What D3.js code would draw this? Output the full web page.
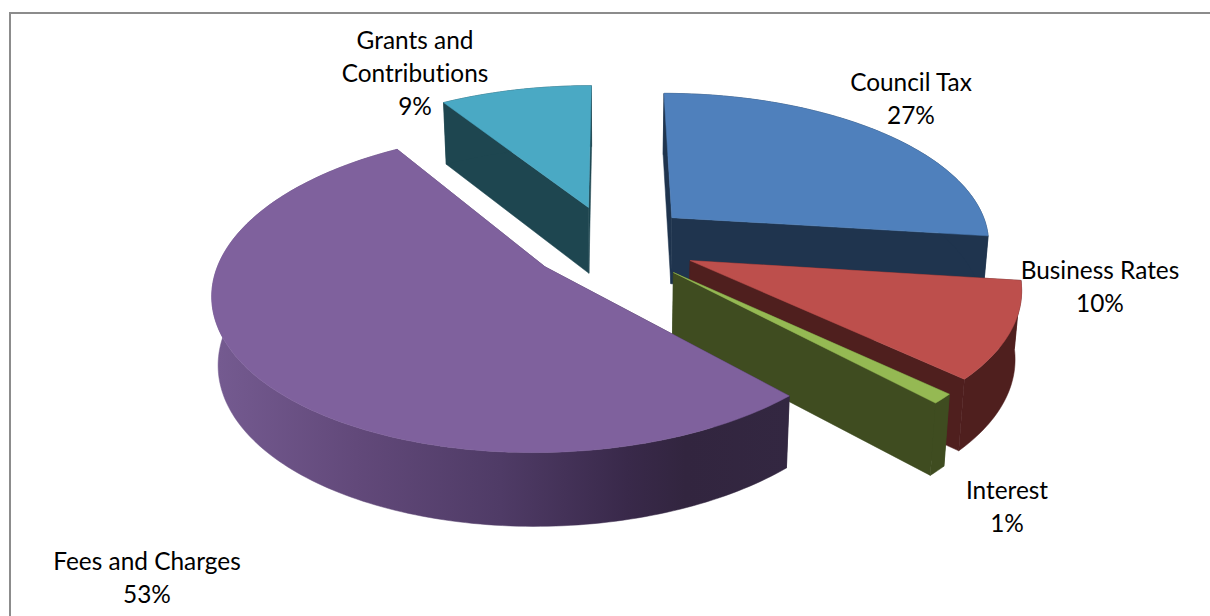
<!DOCTYPE html>
<html>
<head>
<meta charset="utf-8">
<style>
  html, body { margin: 0; padding: 0; background: #fff; }
  svg { display: block; }
  text { font-family: Lato, "Open Sans", sans-serif; font-size: 24.4px; fill: #000; text-anchor: middle; font-variant-ligatures: none; }
</style>
<script src="https://cdn.jsdelivr.net/npm/d3@7/dist/d3.min.js"></script>
</head>
<body>
<svg id="chart" width="1210" height="616"></svg>
<script>
// Income sources, in drawing order round the pie, clockwise from 12 o'clock
const categories = ["Council Tax", "Business Rates", "Interest", "Fees and Charges", "Grants and Contributions"];
const shares = [27, 10, 1, 53, 9];
const explosions = [0.262, 0.27, 0.27, 0.253, 0.255];
const labelLines = [["Council Tax"], ["Business Rates"], ["Interest"], ["Fees and Charges"], ["Grants and", "Contributions"]];
const topColours = ["#4f80bc", "#bd4f4c", "#95b953", "#7f619d", "#4aa9c4"];
const wallColours = ["#1f344e", "#4f1f1e", "#3f4c20", "url(#feesWall)", "#1e4650"];
const labelAnchors = [[911, 90.5], [1100, 278.5], [1007, 498.5], [147, 569.5], [415, 48.5]];

// Stage geometry of the tilted, exploded pie
const centre = { x: 610.5, y: 243 };
const radiusX = 320, radiusY = 150, thickness = 67;
const perspective = 0.15, wallPerspective = 0.08, taper = 0.016;
const lineGap = 33;

const svg = d3.select("#chart");

// Frame running along the top and left of the picture
svg.append("path")
  .attr("d", d3.line()([[10, 616], [10, 13], [1210, 13]]))
  .attr("fill", "none")
  .attr("stroke", "#8c8c8c")
  .attr("stroke-width", 2);

const pie = d3.pie().sort(null).value(d => d).startAngle(0).endAngle(2 * Math.PI);
const arcs = pie(shares);
const path = d3.line();

const scaleU = d3.scaleLinear().domain([0, 1]).range([0, radiusX]);
const scaleV = d3.scaleLinear().domain([0, 1]).range([0, radiusY]);

// Ground-plane coordinates (u right, v away) plus height fraction z down the wall
function project(u, v, z) {
  const w = 1 / (1 + perspective * v);
  const wallScale = 1 / (1 + wallPerspective * v);
  return [
    centre.x + scaleU(u) * w * (1 - taper * z),
    centre.y - scaleV(v) * w + thickness * wallScale * z
  ];
}

function sliceGeometry(a, explode) {
  const mid = (a.startAngle + a.endAngle) / 2;
  const ox = explode * Math.sin(mid), oy = explode * Math.cos(mid);
  const rim = (t, z) => project(ox + Math.sin(t), oy + Math.cos(t), z);
  const apex = z => project(ox, oy, z);
  const steps = Math.max(2, Math.ceil((a.endAngle - a.startAngle) / 0.02));
  const angles = d3.range(steps + 1).map(i => a.startAngle + (a.endAngle - a.startAngle) * i / steps);
  return { rim, apex, angles };
}

// Side shading on the large slice darkens from left to right
const defs = svg.append("defs");
const feesArc = sliceGeometry(arcs[3], explosions[3]);
const feesXs = feesArc.angles.map(t => feesArc.rim(t, 0)[0]);
const gradient = defs.append("linearGradient")
  .attr("id", "feesWall")
  .attr("gradientUnits", "userSpaceOnUse")
  .attr("x1", d3.min(feesXs)).attr("x2", d3.max(feesXs))
  .attr("y1", 0).attr("y2", 0);
[[0, "#755b91"], [0.25, "#62497a"], [0.5, "#4f3b66"], [0.72, "#39294a"], [0.82, "#32253f"], [1, "#332741"]]
  .forEach(([o, c]) => gradient.append("stop").attr("offset", o).attr("stop-color", c));

// Painter's order: back slices first, the large front slice last
const paintOrder = [4, 0, 1, 2, 3];

paintOrder.forEach(i => {
  const a = arcs[i];
  const g = sliceGeometry(a, explosions[i]);
  const group = svg.append("g").attr("class", "slice").datum(categories[i]);

  const edgeWall = t => [g.apex(0), g.rim(t, 0), g.rim(t, 1), g.apex(1)];
  const rimWall = g.angles.map(t => g.rim(t, 0)).concat(g.angles.slice().reverse().map(t => g.rim(t, 1)));

  [edgeWall(a.startAngle), edgeWall(a.endAngle), rimWall].forEach(pts => {
    group.append("path")
      .attr("d", path(pts) + "Z")
      .attr("fill", wallColours[i])
      .attr("stroke", wallColours[i])
      .attr("stroke-width", 0.5);
  });

  const top = [g.apex(0)].concat(g.angles.map(t => g.rim(t, 0)));
  group.append("path")
    .attr("d", path(top) + "Z")
    .attr("fill", topColours[i])
    .attr("stroke", topColours[i])
    .attr("stroke-width", 0.5);
});

// Data labels: category name above its percentage
labelLines.forEach((lines, i) => {
  const [x, y] = labelAnchors[i];
  const label = svg.append("text").attr("x", x).attr("y", y);
  lines.concat(shares[i] + "%").forEach((line, n) => {
    label.append("tspan").attr("x", x).attr("y", y + n * lineGap).text(line);
  });
});
</script>
</body>
</html>
